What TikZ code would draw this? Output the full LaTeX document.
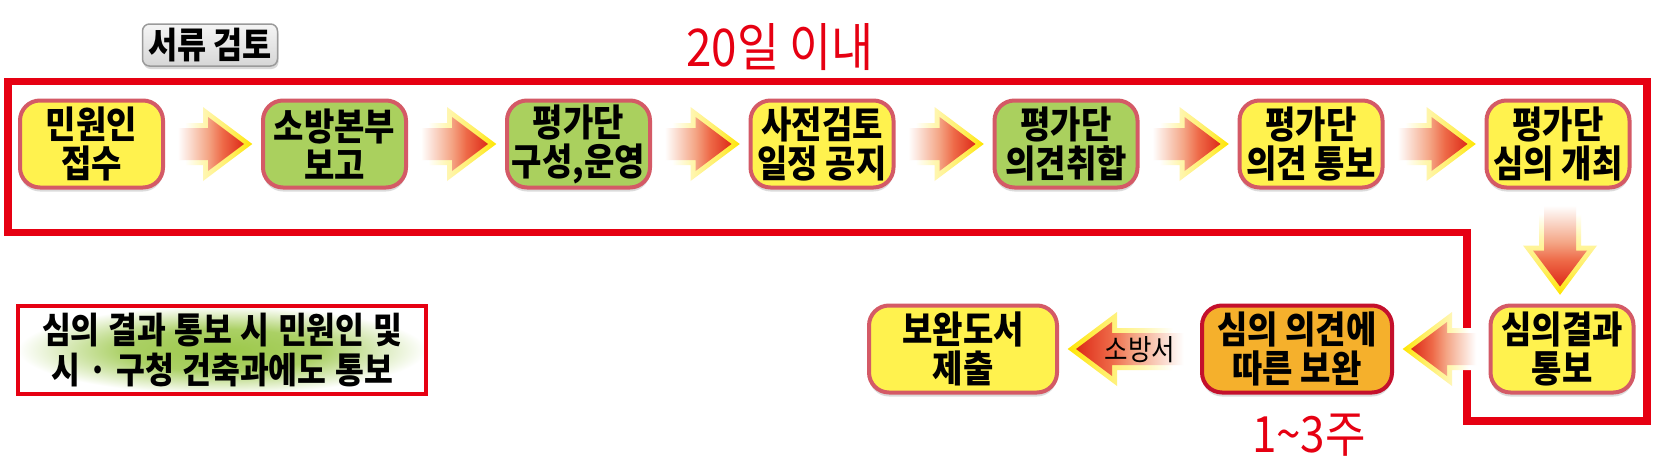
\documentclass[tikz,border=0pt]{standalone}
\usepackage{fontspec}
\newfontfamily\krb{Noto Sans CJK KR}[FakeStretch=0.88, WordSpace=1.5]
\newfontfamily\krn{Noto Sans CJK KR}[FakeStretch=0.88]
\newfontfamily\krw{Noto Sans CJK KR}[FakeStretch=0.87, WordSpace=1.2]
\usetikzlibrary{shadows,calc}

\definecolor{redT}{HTML}{E60012}
\definecolor{boxline}{HTML}{D45A66}
\definecolor{boxY}{HTML}{FFF24E}
\definecolor{boxG}{HTML}{AAD05E}
\definecolor{boxO}{HTML}{F5B02C}
\definecolor{boxOline}{HTML}{C4102C}
\definecolor{grayline}{HTML}{9A9A9A}
\definecolor{noteG}{HTML}{9CC84A}
\definecolor{glowA}{HTML}{FFF6B0}
\definecolor{glowB}{HTML}{FFEF60}
\definecolor{glowC}{HTML}{FFE500}
\definecolor{arA}{HTML}{F4A585}
\definecolor{arB}{HTML}{EE6A48}
\definecolor{arC}{HTML}{DD2A18}

\pgfdeclarehorizontalshading{glowR}{100bp}{color(0bp)=(white); color(25bp)=(white); color(33bp)=(white); color(45bp)=(glowA); color(62bp)=(glowB); color(75bp)=(glowC); color(100bp)=(glowC)}
\pgfdeclarehorizontalshading{redR}{100bp}{color(0bp)=(white); color(25bp)=(white); color(29bp)=(white); color(50bp)=(arA); color(60bp)=(arB); color(75bp)=(arC); color(100bp)=(arC)}
\pgfdeclarehorizontalshading{glowL}{100bp}{color(0bp)=(glowC); color(25bp)=(glowC); color(38bp)=(glowB); color(55bp)=(glowA); color(67bp)=(white); color(100bp)=(white)}
\pgfdeclarehorizontalshading{redL}{100bp}{color(0bp)=(arC); color(25bp)=(arC); color(40bp)=(arB); color(50bp)=(arA); color(71bp)=(white); color(100bp)=(white)}
\pgfdeclareverticalshading{glowD}{100bp}{color(0bp)=(glowC); color(25bp)=(glowC); color(38bp)=(glowB); color(55bp)=(glowA); color(67bp)=(white); color(100bp)=(white)}
\pgfdeclareverticalshading{redD}{100bp}{color(0bp)=(arC); color(25bp)=(arC); color(40bp)=(arB); color(50bp)=(arA); color(71bp)=(white); color(100bp)=(white)}
\pgfdeclareradialshading{noteshade}{\pgfpoint{0bp}{0bp}}{color(0bp)=(noteG); color(12bp)=(noteG!85!white); color(25bp)=(white); color(50bp)=(white)}

% right-pointing block arrow from node #1 to node #2
\newcommand\arrR[2]{%
 \shade[shading=glowR] let \p1=($(#1.east)+(7,0)$), \p2=($(#2.west)+(-17,0)$) in
  (\x1,\y1+21pt) -- (\x2-41pt,\y1+21pt) -- (\x2-41pt,\y1+37pt) -- (\x2+8.3pt,\y1) --
  (\x2-41pt,\y1-37pt) -- (\x2-41pt,\y1-21pt) -- (\x1,\y1-21pt) -- cycle;
 \shade[shading=redR] let \p1=($(#1.east)+(7,0)$), \p2=($(#2.west)+(-17,0)$) in
  (\x1,\y1+16pt) -- (\x2-36pt,\y1+16pt) -- (\x2-36pt,\y1+27pt) -- (\x2,\y1) --
  (\x2-36pt,\y1-27pt) -- (\x2-36pt,\y1-16pt) -- (\x1,\y1-16pt) -- cycle;
}
% left-pointing block arrow from node #1 to node #2
\newcommand\arrL[2]{%
 \shade[shading=glowL] let \p1=($(#1.west)+(-7,0)$), \p2=($(#2.east)+(17,0)$) in
  (\x1,\y1+21pt) -- (\x2+41pt,\y1+21pt) -- (\x2+41pt,\y1+37pt) -- (\x2-8.3pt,\y1) --
  (\x2+41pt,\y1-37pt) -- (\x2+41pt,\y1-21pt) -- (\x1,\y1-21pt) -- cycle;
 \shade[shading=redL] let \p1=($(#1.west)+(-7,0)$), \p2=($(#2.east)+(17,0)$) in
  (\x1,\y1+16pt) -- (\x2+36pt,\y1+16pt) -- (\x2+36pt,\y1+27pt) -- (\x2,\y1) --
  (\x2+36pt,\y1-27pt) -- (\x2+36pt,\y1-16pt) -- (\x1,\y1-16pt) -- cycle;
}
% down-pointing block arrow from node #1 to node #2
\newcommand\arrD[2]{%
 \shade[shading=glowD] let \p1=($(#1.south)+(2,9)$), \p2=($(#2.north)+(0,-17)$) in
  (\x1+21pt,\y1) -- (\x1+21pt,\y2+41pt) -- (\x1+37pt,\y2+41pt) -- (\x1,\y2-8.3pt) --
  (\x1-37pt,\y2+41pt) -- (\x1-21pt,\y2+41pt) -- (\x1-21pt,\y1) -- cycle;
 \shade[shading=redD] let \p1=($(#1.south)+(2,9)$), \p2=($(#2.north)+(0,-17)$) in
  (\x1+16pt,\y1) -- (\x1+16pt,\y2+36pt) -- (\x1+27pt,\y2+36pt) -- (\x1,\y2) --
  (\x1-27pt,\y2+36pt) -- (\x1-16pt,\y2+36pt) -- (\x1-16pt,\y1) -- cycle;
}

\tikzset{
 boxfont/.style={font=\krb\bfseries\fontsize{37.5}{39}\selectfont},
 pbox/.style={boxfont, draw=boxline, line width=4pt, rounded corners=20pt,
   minimum width=143pt, minimum height=87pt, align=center, inner sep=0pt, text=black,
   drop shadow={opacity=0.28, shadow xshift=0pt, shadow yshift=-4pt}},
 ybox/.style={pbox, fill=boxY},
 gbox/.style={pbox, fill=boxG},
 obox/.style={pbox, fill=boxO, draw=boxOline},
 graybox/.style={font=\krb\bfseries\fontsize{36}{38}\selectfont, draw=grayline, line width=1.5pt,
   rounded corners=7pt, top color=white!96!black, bottom color=white!84!black,
   minimum width=135pt, minimum height=42pt, inner sep=0pt,
   drop shadow={opacity=0.3, shadow xshift=1pt, shadow yshift=-3pt}},
 notebox/.style={font=\krw\bfseries\fontsize{36}{40}\selectfont, draw=redT, line width=4pt,
   shading=noteshade, minimum width=408pt, minimum height=88pt,
   align=center, inner sep=0pt},
 redline/.style={draw=redT, line width=7.5pt},
 redlabel/.style={text=redT, inner sep=0pt},
}

\begin{document}
\begin{tikzpicture}[x=1pt,y=-1pt]
\useasboundingbox (0,0) rectangle (1669,471);
\fill[white] (0,0) rectangle (1669,471);

% big red frame
\draw[redline] (8,81.5) -- (1647,81.5) -- (1647,421) -- (1467,421) -- (1467,232.5) -- (8,232.5) -- cycle;

% labels
\node[graybox] (t1) at (210,45) {서류 검토};
\node[redlabel, font=\krn\fontsize{52}{52}\selectfont] (lab20) at (780,47) {20일 이내};
\node[redlabel, font=\krn\fontsize{50}{50}\selectfont] (lab13) at (1309,435) {1{\char"7E}3주};

% top row
\node[ybox] (b1) at (91.5,144) {민원인\\접수};
\node[gbox] (b2) at (334.5,144) {소방본부\\보고};
\node[gbox] (b3) at (578.5,144) {평가단\\구성,운영};
\node[ybox] (b4) at (822,144) {사전검토\\일정 공지};
\node[gbox] (b5) at (1066,144) {평가단\\의견취합};
\node[ybox] (b6) at (1311,144) {평가단\\의견 통보};
\node[ybox] (b7) at (1558,144) {평가단\\심의 개최};

% bottom row
\node[ybox] (c1) at (1562,349) {심의결과\\통보};
\node[obox, minimum width=190pt] (c2) at (1297,349) {심의 의견에\\따른 보완};
\node[ybox, minimum width=188pt] (c3) at (963,349) {보완도서\\제출};

% note
\node[notebox, shade] (note) at (222,350) {심의 결과 통보 시 민원인 및\\시 · 구청 건축과에도 통보};

% arrows
\arrR{b1}{b2}
\arrR{b2}{b3}
\arrR{b3}{b4}
\arrR{b4}{b5}
\arrR{b5}{b6}
\arrR{b6}{b7}
\arrD{b7}{c1}
\arrL{c1}{c2}
\arrL{c2}{c3}
\node[font=\krn\fontsize{29}{29}\selectfont, inner sep=0pt] (lab) at ($(c2.west)+(-60,1)$) {소방서};
\end{tikzpicture}
\end{document}
